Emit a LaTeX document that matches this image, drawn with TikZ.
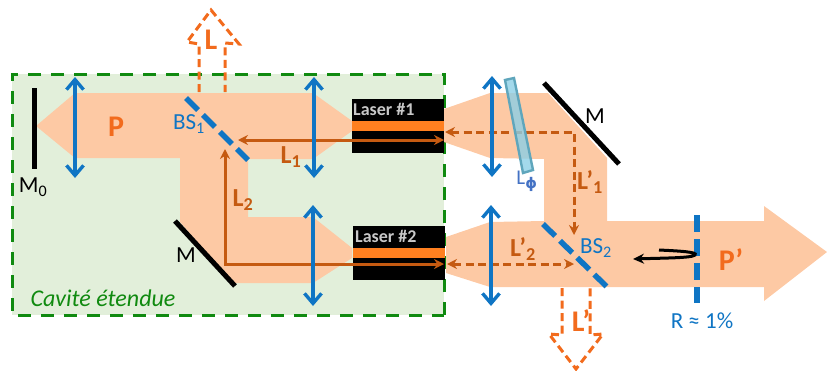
\documentclass[tikz,border=0pt]{standalone}
\usepackage{fontspec}
\setmainfont{Carlito}
\newfontfamily\phifont{DejaVu Sans}
\usetikzlibrary{arrows.meta}
\definecolor{beam}{HTML}{FDC9A4}
\definecolor{cav}{HTML}{E2EFDA}
\definecolor{cavb}{HTML}{108A10}
\definecolor{lens}{HTML}{0F75C4}
\definecolor{brn}{HTML}{C55A11}
\definecolor{org}{HTML}{F26B1D}
\definecolor{band}{HTML}{FF8020}
\definecolor{lasertxt}{HTML}{C8C8C8}
\definecolor{plate}{HTML}{8CCFE6}
\definecolor{plateb}{HTML}{5FA6BC}
\definecolor{phic}{HTML}{4472C4}
\tikzset{
 beamshape/.style={fill=beam,draw=none},
 lensarrow/.style={draw=lens,line width=3.4pt,{Straight Barb[length=10pt,width=17pt,line width=3.4pt]}-{Straight Barb[length=10pt,width=17pt,line width=3.4pt]}},
 mirror/.style={draw=black,line width=5pt},
 splitter/.style={draw=lens,line width=5.5pt,dash pattern=on 17pt off 7pt},
 solidray/.style={draw=brn,line width=3pt},
 dashray/.style={draw=brn,line width=3pt,dash pattern=on 8pt off 4.5pt},
 outarrow/.style={draw=org,line width=3pt,dash pattern=on 8pt off 4.5pt},
 laserbox/.style={fill=black,draw=none,minimum width=92pt,minimum height=54pt,inner sep=0pt},
 bandbox/.style={fill=band,draw=none,minimum width=92pt,minimum height=10pt,inner sep=0pt},
 lasertext/.style={text=lasertxt,font=\fontsize{18}{18}\selectfont\bfseries,inner sep=0pt},
 bigorg/.style={text=org,font=\fontsize{30}{30}\selectfont\bfseries,inner sep=0pt},
 brnlab/.style={text=brn,font=\fontsize{26}{26}\selectfont\bfseries,inner sep=0pt},
 bluelab/.style={text=lens,font=\fontsize{23}{23}\selectfont,inner sep=0pt},
 blacklab/.style={text=black,font=\fontsize{23}{23}\selectfont,inner sep=0pt},
}
\begin{document}
\begin{tikzpicture}[x=1pt,y=-1pt]
\useasboundingbox (0,0) rectangle (827,370);
% extended cavity
\fill[cav] (12,74) rectangle (444,315);
\draw[cavb,line width=3pt,dash pattern=on 13pt off 10pt] (444,315) -- (444,74) -- (12,74) -- (12,315) -- cycle;
% beams
\path[beamshape] (36,126) -- (75,93) -- (313,93) -- (352,121) -- (352,131) -- (313,159) -- (248,159) -- (248,217) -- (313,217) -- (352,248) -- (352,258) -- (313,283) -- (233,283) -- (180,222) -- (180,158) -- (75,158) -- cycle;
\path[beamshape] (444,109) -- (490,93) -- (548,93) -- (607,158) -- (607,221) -- (764,221) -- (764,206) -- (827,252) -- (764,301) -- (764,287) -- (490,287) -- (446,273) -- (446,237) -- (490,222) -- (544,221) -- (544,159) -- (490,158) -- (444,142) -- cycle;
% lasers
\node[laserbox] (las1) at (398,126) {};
\node[bandbox] (band1) at (398,126) {};
\node[laserbox] (las2) at (399,253) {};
\node[bandbox] (band2) at (399,253) {};
\node[lasertext,anchor=west] (las1t) at (353,109.5) {Laser \#1};
\node[lasertext,anchor=west] (las2t) at (355,236.5) {Laser \#2};
% mirrors
\coordinate (m0a) at (34,88); \coordinate (m0b) at (34,169);
\coordinate (m1a) at (175,221); \coordinate (m1b) at (235,286);
\coordinate (m2a) at (544,83); \coordinate (m2b) at (619,164);
\draw[mirror] (m0a) -- (m0b);
\draw[mirror] (m1a) -- (m1b);
\draw[mirror] (m2a) -- (m2b);
% rays
\coordinate (r1a) at (238,140); \coordinate (r1b) at (444,140);
\coordinate (r2a) at (225,149); \coordinate (r2c) at (225,264); \coordinate (r2b) at (444,264);
\draw[solidray,{Stealth[length=10pt,width=10pt]}-{Stealth[length=10pt,width=10pt]}] (r1a) -- (r1b);
\draw[solidray,{Stealth[length=10pt,width=10pt]}-{Stealth[length=10pt,width=10pt]}] (r2a) -- (r2c) -- (r2b);
\coordinate (d1a) at (445,132); \coordinate (d1c) at (574,132); \coordinate (d1b) at (574,235);
\coordinate (d2a) at (447,264); \coordinate (d2b) at (574,264);
\draw[dashray,{Stealth[length=10pt,width=10pt]}-{Stealth[length=10pt,width=10pt]}] (d1a) -- (d1c) -- (d1b);
\draw[dashray,{Stealth[length=10pt,width=10pt]}-{Stealth[length=10pt,width=10pt]}] (d2a) -- (d2b);
% phase plate
\fill[fill=plate,draw=plateb,line width=2.4pt,fill opacity=.8] (505,80) -- (514,78) -- (533,170) -- (523,173) -- cycle;
% lenses
\coordinate (l1a) at (75,77); \coordinate (l1b) at (75,178);
\coordinate (l2a) at (314,77); \coordinate (l2b) at (314,178);
\coordinate (l3a) at (313,205); \coordinate (l3b) at (313,306);
\coordinate (l4a) at (492,76); \coordinate (l4b) at (492,177);
\coordinate (l5a) at (491,205); \coordinate (l5b) at (491,306);
\foreach \p/\q in {l1a/l1b,l2a/l2b,l3a/l3b,l4a/l4b,l5a/l5b} \draw[lensarrow] (\p) -- (\q);
% beam splitters
\coordinate (bs1a) at (186,98); \coordinate (bs1b) at (248,160);
\coordinate (bs2a) at (543,224); \coordinate (bs2b) at (607,287);
\coordinate (ra) at (697,215); \coordinate (rb) at (697,303);
\draw[splitter] (bs1a) -- (bs1b);
\draw[splitter] (bs2a) -- (bs2b);
\draw[splitter] (ra) -- (rb);
% out arrows
\coordinate (la) at (199,92); \coordinate (lb) at (225,92);
\coordinate (lpa) at (562,288); \coordinate (lpb) at (590,288);
\draw[outarrow,line join=miter] (la) -- (199,44) -- (187,42) -- (211,10) -- (239,44) -- (225,43) -- (lb);
\draw[outarrow,line join=miter] (lpa) -- (562,335) -- (549,334) -- (576,369) -- (603,334) -- (590,335) -- (lpb);
% return arrow
\coordinate (ba) at (659,250); \coordinate (bb) at (633,259);
\draw[black,line width=3pt,-{Stealth[length=11pt,width=10pt]}] (ba) .. controls (680,251) and (698,252) .. (695,255) .. controls (692,258) and (665,258) .. (bb);
% labels
\node[blacklab] (tm0) at (33,187) {M\textsubscript{0}};
\node[blacklab] (tm1) at (186,255) {M};
\node[blacklab] (tm2) at (595,116) {M};
\node[bigorg] (tp) at (116,127) {P};
\node[bigorg] (tpp) at (731,260) {P’};
\node[bigorg] (tl) at (211,40) {L};
\node[bigorg] (tlp) at (581,321) {L’};
\node[bluelab] (tbs1) at (189,124) {BS\textsubscript{1}};
\node[bluelab] (tbs2) at (596,248) {BS\textsubscript{2}};
\node[bluelab] (tr) at (702,321) {R ≈ 1\%};
\node[brnlab] (tl1) at (291,157) {L\textsubscript{1}};
\node[brnlab] (tl2) at (243,200) {L\textsubscript{2}};
\node[brnlab] (tl1p) at (590,182) {L’\textsubscript{1}};
\node[brnlab] (tl2p) at (523,249) {L’\textsubscript{2}};
\node[text=phic,font=\fontsize{21}{21}\selectfont,inner sep=0pt] (tphi) at (527,181) {L\textsubscript{\phifont\bfseries ϕ}};
\node[text=cavb,font=\fontsize{24}{24}\selectfont\itshape,inner sep=0pt] (tcav) at (103,298) {Cavité étendue};
\end{tikzpicture}
\end{document}
